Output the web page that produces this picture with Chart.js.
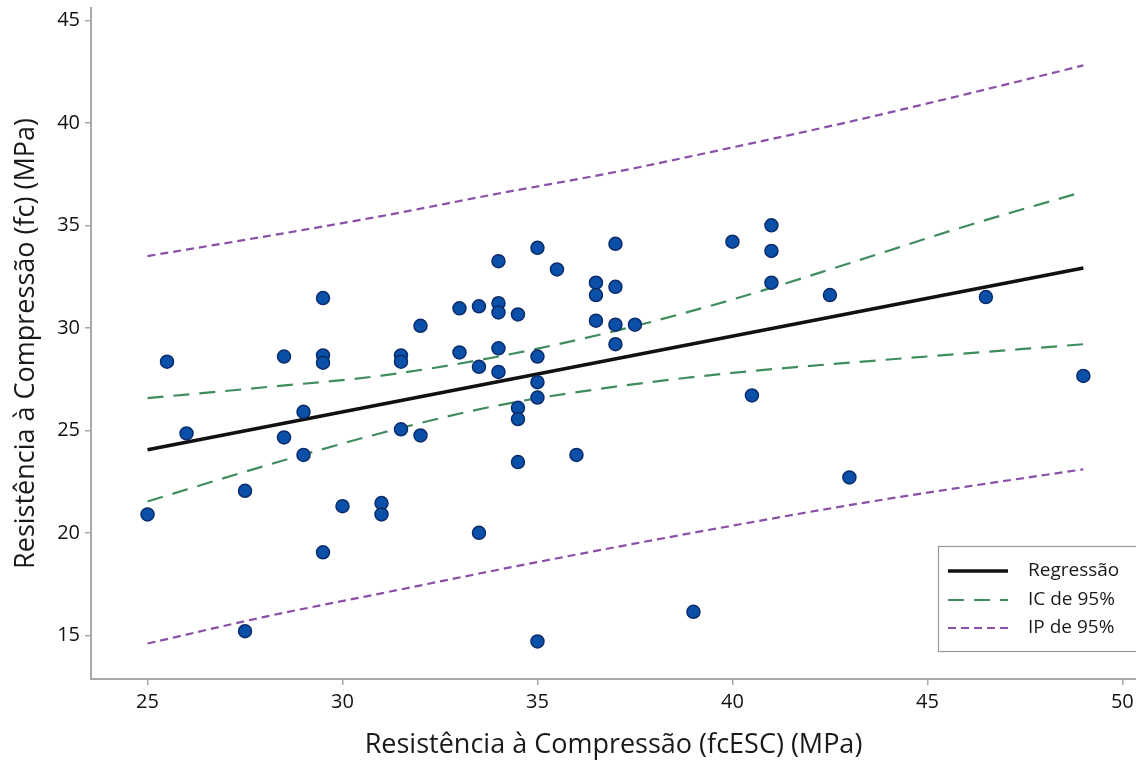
<!DOCTYPE html>
<html>
<head>
<meta charset="utf-8">
<script src="https://cdn.jsdelivr.net/npm/chart.js"></script>
<style>
  html, body { margin: 0; padding: 0; background: #fff; }
</style>
</head>
<body>
<canvas id="scatterChart" width="1136" height="762"></canvas>
<script>
// observed values
const fcESC = [25, 25.5, 26, 27.5, 27.5, 28.5, 28.5, 29, 29, 29.5, 29.5, 29.5, 29.5, 30, 31, 31,
  31.5, 31.5, 31.5, 32, 32, 33, 33, 33.5, 33.5, 33.5, 34, 34, 34, 34, 34, 34.5, 34.5, 34.5, 34.5,
  35, 35, 35, 35, 35, 35.5, 36, 36.5, 36.5, 36.5, 37, 37, 37, 37, 37.5, 39, 40, 40.5, 41, 41, 41,
  42.5, 43, 46.5, 49];
const fc = [20.9, 28.35, 24.85, 22.05, 15.2, 28.6, 24.65, 25.9, 23.8, 31.45, 28.65, 28.3, 19.05, 21.3, 21.45, 20.9,
  25.05, 28.65, 28.35, 30.1, 24.75, 30.95, 28.8, 31.05, 28.1, 20.0, 33.25, 31.2, 30.75, 29.0, 27.85, 30.65, 26.1, 25.55, 23.45,
  33.9, 28.6, 27.35, 26.6, 14.7, 32.85, 23.8, 32.2, 31.6, 30.35, 34.1, 32.0, 30.15, 29.2, 30.15, 16.15, 34.2, 26.7, 35.0, 33.75, 32.2,
  31.6, 22.7, 31.5, 27.65];

// fitted line and bands
const regX = [25, 49];
const regY = [24.05, 32.92];
const bandX   = [25, 28, 31, 34, 37, 40, 43, 46, 49];
const icUpper = [26.57, 27.1, 27.67, 28.6, 29.85, 31.38, 33.15, 34.97, 36.64];
const icLower = [21.53, 23.26, 24.87, 26.22, 27.13, 27.8, 28.3, 28.75, 29.2];
const ipUpper = [33.5, 34.45, 35.45, 36.55, 37.6, 38.8, 40.05, 41.4, 42.8];
const ipLower = [14.6, 15.9, 17.05, 18.2, 19.3, 20.35, 21.35, 22.25, 23.1];

const xTicks = [25, 30, 35, 40, 45, 50];
const yTicks = [15, 20, 25, 30, 35, 40, 45];
const legendLabels = ['Regressão', 'IC de 95%', 'IP de 95%'];

const FONT = "'Open Sans', 'Noto Sans', sans-serif";
const pairs = (xs, ys) => xs.map((x, i) => ({x: x, y: ys[i]}));

const green = '#3f8d5c';
const purple = '#8a4fa6';

const bandStyle = (color, dash) => ({
  type: 'line', showLine: true, pointRadius: 0, borderColor: color, borderWidth: 2.2,
  borderDash: dash, fill: false, cubicInterpolationMode: 'monotone'
});

// legend drawn inside the plot, bottom right
const boxLegend = {
  id: 'boxLegend',
  afterDraw(chart) {
    const ctx = chart.ctx;
    const x0 = 938, y0 = 546, w = 210, h = 105;
    ctx.save();
    ctx.fillStyle = '#fff';
    ctx.fillRect(x0, y0, w, h);
    ctx.strokeStyle = '#9a9a9a';
    ctx.lineWidth = 1.2;
    ctx.strokeRect(x0 + 0.5, y0 + 0.5, w, h);
    const rows = [
      {y: 571, color: '#111', width: 3.5, dash: []},
      {y: 600, color: green, width: 2.2, dash: [16, 10]},
      {y: 628, color: purple, width: 2.2, dash: [8, 5]}
    ];
    rows.forEach((r, i) => {
      ctx.beginPath();
      ctx.setLineDash(r.dash);
      ctx.strokeStyle = r.color;
      ctx.lineWidth = r.width;
      ctx.moveTo(948, r.y);
      ctx.lineTo(1008, r.y);
      ctx.stroke();
      ctx.setLineDash([]);
      ctx.fillStyle = '#1a1a1a';
      ctx.font = '19px ' + FONT;
      ctx.textBaseline = 'middle';
      ctx.fillText(legendLabels[i], 1028, r.y);
    });
    ctx.restore();
  }
};

new Chart(document.getElementById('scatterChart'), {
  type: 'scatter',
  data: {
    datasets: [
      {
        label: 'Dados',
        data: pairs(fcESC, fc),
        pointRadius: 6.5,
        pointHoverRadius: 6.5,
        backgroundColor: '#0b50a8',
        borderColor: '#0a2c6b',
        borderWidth: 1.5,
        order: 0
      },
      Object.assign({label: legendLabels[0], data: pairs(regX, regY), order: 1},
        bandStyle('#111', []), {borderWidth: 3.5}),
      Object.assign({label: legendLabels[1] + ' sup', data: pairs(bandX, icUpper), order: 2}, bandStyle(green, [16, 10])),
      Object.assign({label: legendLabels[1] + ' inf', data: pairs(bandX, icLower), order: 2}, bandStyle(green, [16, 10])),
      Object.assign({label: legendLabels[2] + ' sup', data: pairs(bandX, ipUpper), order: 3}, bandStyle(purple, [8, 5])),
      Object.assign({label: legendLabels[2] + ' inf', data: pairs(bandX, ipLower), order: 3}, bandStyle(purple, [8, 5]))
    ]
  },
  options: {
    responsive: false,
    animation: false,
    events: [],
    layout: { autoPadding: false, padding: { top: 8, right: 0, left: 0, bottom: 0 } },
    plugins: {
      legend: { display: false },
      tooltip: { enabled: false }
    },
    scales: {
      x: {
        type: 'linear',
        min: 23.55,
        max: 50.35,
        afterBuildTicks: s => { s.ticks = xTicks.map(v => ({value: v})); },
        afterFit: s => { s.height = 83; s.paddingLeft = 0; s.paddingRight = 0; },
        border: { color: '#a8a8a8', width: 2 },
        grid: { drawOnChartArea: false, drawTicks: true, tickLength: 6, color: '#a8a8a8', lineWidth: 1.5 },
        ticks: { color: '#111', font: { family: FONT, size: 20 }, padding: 5, maxRotation: 0 },
        title: {
          display: true,
          text: 'Resistência à Compressão (fcESC) (MPa)',
          color: '#1a1a1a',
          font: { family: FONT, size: 27 },
          padding: { top: 0, bottom: 0 }
        }
      },
      y: {
        type: 'linear',
        min: 12.87,
        max: 45.6,
        afterBuildTicks: s => { s.ticks = yTicks.map(v => ({value: v})); },
        afterFit: s => { s.width = 91; s.paddingTop = 0; s.paddingBottom = 0; },
        border: { color: '#a8a8a8', width: 2 },
        grid: { drawOnChartArea: false, drawTicks: true, tickLength: 6, color: '#a8a8a8', lineWidth: 1.5 },
        ticks: { color: '#111', font: { family: FONT, size: 20 }, padding: 5 },
        title: {
          display: true,
          text: 'Resistência à Compressão (fc) (MPa)',
          color: '#1a1a1a',
          font: { family: FONT, size: 27 },
          padding: { top: 10, bottom: 0 }
        }
      }
    }
  },
  plugins: [boxLegend]
});
</script>
</body>
</html>
